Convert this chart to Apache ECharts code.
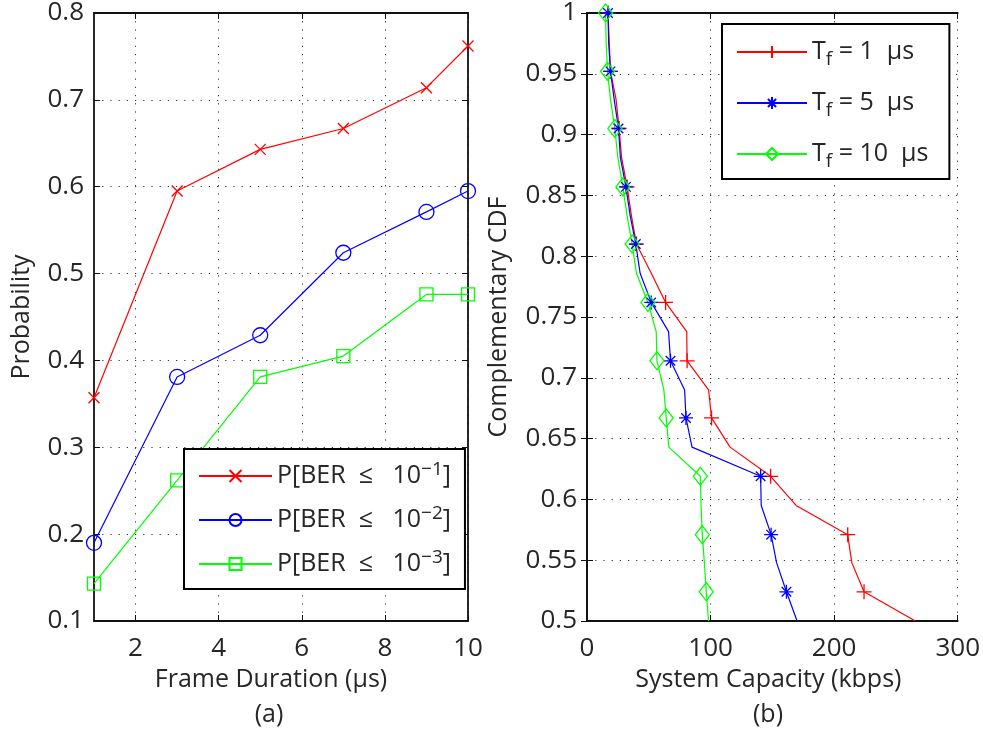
<!DOCTYPE html>
<html>
<head>
<meta charset="utf-8">
<script src="https://cdn.jsdelivr.net/npm/echarts@6/dist/echarts.min.js"></script>
<style>html,body{margin:0;padding:0;background:#fff;}#c{width:983px;height:729px;}</style>
</head>
<body>
<div id="c"></div>
<script>
// ---------- Panel (a) data ----------
const frameDurations = [1, 3, 5, 7, 9, 10];
const pBer1 = [0.357, 0.595, 0.643, 0.667, 0.714, 0.762];
const pBer2 = [0.190, 0.381, 0.429, 0.524, 0.571, 0.595];
const pBer3 = [0.143, 0.262, 0.381, 0.405, 0.476, 0.476];
const xTicksA = [2, 4, 6, 8, 10];

// ---------- Panel (b) data ----------
const ccdfLevels = [1.000, 0.976, 0.952, 0.929, 0.905, 0.881, 0.857, 0.833, 0.810, 0.786, 0.762,
                    0.738, 0.714, 0.690, 0.667, 0.643, 0.619, 0.595, 0.571, 0.548, 0.524, 0.500];
const capTf1  = [17, 18, 19, 23.5, 26, 28, 32.5, 36, 40, 52, 63.6, 80.7, 81, 98.4, 100.8, 115.8, 148.6, 169.2, 211, 214.3, 224.2, 265.7];
const capTf5  = [17, 17.5, 19, 22, 25.5, 27, 31.5, 35, 39.5, 43, 52, 66, 67.6, 79, 80.1, 85, 140.5, 141, 149, 153.4, 161.4, 170];
const capTf10 = [15, 15.5, 16.6, 19, 22.5, 25, 29, 32.5, 36.5, 40, 49.3, 56, 56.6, 62.2, 64.1, 66.2, 91.7, 92.3, 93.3, 95, 96.5, 98.4];

const namesA = ['P[BER ≤ 10^-1]', 'P[BER ≤ 10^-2]', 'P[BER ≤ 10^-3]'];
const supA = ['−1', '−2', '−3'];
const namesB = ['Tf = 1 us', 'Tf = 5 us', 'Tf = 10 us'];
const valB = ['1', '5', '10'];

const FONT = 'Open Sans';
const TXT = '#262626';
const RED = '#ff0000', BLUE = '#0000ff', GREEN = '#00ff00';

const SYM_X = 'path://M0,0L10,10M10,0L0,10';
const SYM_PLUS = 'path://M5,0L5,10M0,5L10,5';
const SYM_STAR = 'path://M5,0L5,10M0,5L10,5M1.6,1.6L8.4,8.4M8.4,1.6L1.6,8.4';

const gridA = {left: 94, top: 12, width: 374, height: 609};
const gridB = {left: 587, top: 12, width: 373, height: 609};

const splitStyle = {show: true, lineStyle: {color: '#333', width: 1, type: [1.2, 7]}};
const axisLineStyle = {show: true, lineStyle: {color: '#111', width: 1.8}};
const tickIn = {show: true, inside: true, length: 6, lineStyle: {color: '#111', width: 1}};
const labelStyle = {color: TXT, fontFamily: FONT, fontSize: 26};
const nameStyle = {color: TXT, fontFamily: FONT, fontSize: 25};

function lineSeries(name, xs, ys, color, symbol, size, xi, yi, sparse) {
  return {
    name, type: 'line', xAxisIndex: xi, yAxisIndex: yi,
    data: xs.map((x, i) => {
      const d = {value: [x, ys[i]]};
      if (sparse && i % 2 === 1) d.symbol = 'none';
      return d;
    }),
    symbol, symbolSize: size, showAllSymbol: true,
    lineStyle: {color, width: 1.2},
    itemStyle: {color: 'rgba(0,0,0,0)', borderColor: color, borderWidth: 1.3},
    emphasis: {disabled: true},
    animation: false, z: 3
  };
}

const chart = echarts.init(document.getElementById('c'));
chart.setOption({
  animation: false,
  backgroundColor: '#fff',
  grid: [gridA, gridB],
  xAxis: [
    {type: 'value', gridIndex: 0, min: 1, max: 10, position: 'bottom',
     name: 'Frame Duration (μs)', nameLocation: 'middle', nameGap: 46,
     nameTextStyle: Object.assign({padding: [0, 20, 0, 0]}, nameStyle),
     axisLine: axisLineStyle, axisTick: Object.assign({customValues: xTicksA}, tickIn),
     axisLabel: Object.assign({customValues: xTicksA, margin: 15}, labelStyle),
     splitLine: splitStyle},
    {type: 'value', gridIndex: 0, min: 1, max: 10, position: 'top',
     axisLine: axisLineStyle, axisTick: Object.assign({customValues: xTicksA}, tickIn),
     axisLabel: {show: false}, splitLine: {show: false}},
    {type: 'value', gridIndex: 1, min: 0, max: 300, interval: 100, position: 'bottom',
     name: 'System Capacity (kbps)', nameLocation: 'middle', nameGap: 46,
     nameTextStyle: Object.assign({padding: [0, 8, 0, 0]}, nameStyle),
     axisLine: axisLineStyle, axisTick: tickIn,
     axisLabel: Object.assign({margin: 15}, labelStyle), splitLine: splitStyle},
    {type: 'value', gridIndex: 1, min: 0, max: 300, interval: 100, position: 'top',
     axisLine: axisLineStyle, axisTick: tickIn, axisLabel: {show: false}, splitLine: {show: false}}
  ],
  yAxis: [
    {type: 'value', gridIndex: 0, min: 0.1, max: 0.8, interval: 0.1, position: 'left',
     name: 'Probability', nameLocation: 'middle', nameGap: 60, nameRotate: 90, nameTextStyle: nameStyle,
     axisLine: axisLineStyle, axisTick: tickIn,
     axisLabel: Object.assign({margin: 10}, labelStyle), splitLine: splitStyle},
    {type: 'value', gridIndex: 0, min: 0.1, max: 0.8, interval: 0.1, position: 'right',
     axisLine: axisLineStyle, axisTick: tickIn, axisLabel: {show: false}, splitLine: {show: false}},
    {type: 'value', gridIndex: 1, min: 0.5, max: 1, interval: 0.05, position: 'left',
     name: 'Complementary CDF', nameLocation: 'middle', nameGap: 76, nameRotate: 90, nameTextStyle: nameStyle,
     axisLine: axisLineStyle, axisTick: tickIn,
     axisLabel: Object.assign({margin: 10}, labelStyle), splitLine: splitStyle},
    {type: 'value', gridIndex: 1, min: 0.5, max: 1, interval: 0.05, position: 'right',
     axisLine: axisLineStyle, axisTick: tickIn, axisLabel: {show: false}, splitLine: {show: false}}
  ],
  legend: [
    {data: namesA, left: 184, top: 449, orient: 'vertical',
     backgroundColor: '#fff', borderColor: '#000', borderWidth: 2,
     padding: [11, 14, 9, 14], itemGap: 12, itemWidth: 73, itemHeight: 15,
     selectedMode: false,
     formatter: function (n) { const i = namesA.indexOf(n); return '{m|P[BER  ≤   10}{s|' + supA[i] + '}{m|]}'; },
     textStyle: {color: TXT, fontFamily: FONT, fontSize: 25, lineHeight: 32,
       rich: {m: {fontFamily: FONT, fontSize: 25, lineHeight: 32, color: TXT},
              s: {fontFamily: FONT, fontSize: 19, lineHeight: 19, verticalAlign: 'top', color: TXT}}}},
    {data: namesB, left: 722, top: 24, orient: 'vertical',
     backgroundColor: '#fff', borderColor: '#000', borderWidth: 2,
     padding: [10, 21, 8, 14], itemGap: 16, itemWidth: 70, itemHeight: 15,
     selectedMode: false,
     formatter: function (n) { const i = namesB.indexOf(n); return '{m|T}{f|f}{m| = ' + valB[i] + '  μs}'; },
     textStyle: {color: TXT, fontFamily: FONT, fontSize: 25, lineHeight: 34,
       rich: {m: {fontFamily: FONT, fontSize: 25, lineHeight: 34, color: TXT},
              f: {fontFamily: FONT, fontSize: 19, lineHeight: 19, verticalAlign: 'bottom', padding: [16, 0, 0, 0], color: TXT}}}}
  ],
  graphic: [
    {type: 'text', x: 269, y: 715, style: {text: '(a)', textAlign: 'center', textVerticalAlign: 'middle', font: '25px "Open Sans"', fill: TXT}},
    {type: 'text', x: 768, y: 715, style: {text: '(b)', textAlign: 'center', textVerticalAlign: 'middle', font: '25px "Open Sans"', fill: TXT}}
  ],
  series: [
    lineSeries(namesA[0], frameDurations, pBer1, RED, SYM_X, 11, 0, 0, false),
    lineSeries(namesA[1], frameDurations, pBer2, BLUE, 'circle', 15, 0, 0, false),
    lineSeries(namesA[2], frameDurations, pBer3, GREEN, 'rect', 13, 0, 0, false),
    lineSeries(namesB[0], capTf1, ccdfLevels, RED, SYM_PLUS, 15, 2, 2, true),
    lineSeries(namesB[1], capTf5, ccdfLevels, BLUE, SYM_STAR, 14, 2, 2, true),
    lineSeries(namesB[2], capTf10, ccdfLevels, GREEN, 'diamond', [14, 18], 2, 2, true)
  ]
});
</script>
</body>
</html>
